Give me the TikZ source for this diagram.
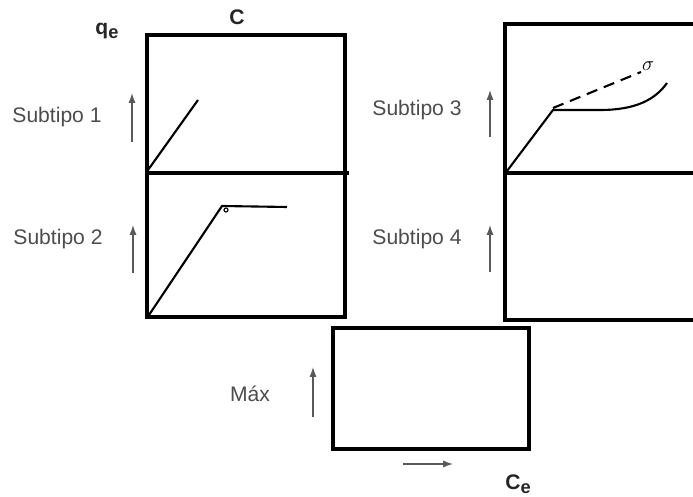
\documentclass[tikz,border=0pt]{standalone}
\usepackage{fontspec}
\setmainfont{Liberation Sans}
\usetikzlibrary{arrows.meta}
\begin{document}
\begin{tikzpicture}[x=0.025cm,y=-0.025cm,
	box/.style={line width=3.2pt},
	curve/.style={line width=1.5pt,line join=round},
	uparrow/.style={-{Latex[length=7pt,width=5pt]},draw=black!65,line width=0.9pt},
	sublabel/.style={text=black!70,font=\fontsize{15}{18}\selectfont},
	axlabel/.style={text=black!85,font=\bfseries\fontsize{15}{18}\selectfont}]
	\useasboundingbox (0,0) rectangle (693,497);
	\clip (0,0) rectangle (693,497);
	
	% left column
	\draw[box] (147,35) rectangle (345,173);
	\draw[box] (147,173) rectangle (345,317);
	\draw[box] (345,173)--(349,173);
	% right column
	\draw[box] (505,24) rectangle (720,173);
	\draw[box] (505,173) rectangle (720,320);
	% bottom box
	\draw[box] (333,328) rectangle (529,449);
	
	\node[axlabel] (qe) at (107,31) {q\raisebox{-0.35ex}{\fontsize{13}{15}\selectfont e}};
	\node[axlabel] (c) at (237,17) {C};
	\node[axlabel] (ce) at (518,484) {C\raisebox{-0.35ex}{\fontsize{13}{15}\selectfont e}};
	
	\node[sublabel] (s1) at (57,117) {Subtipo 1};
	\draw[uparrow] (132,142)--(132,93);
	\node[sublabel] (s2) at (58,239) {Subtipo 2};
	\draw[uparrow] (133,273)--(133,225);
	\node[sublabel] (s3) at (417,110) {Subtipo 3};
	\draw[uparrow] (490,137)--(490,90);
	\node[sublabel] (s4) at (417,239) {Subtipo 4};
	\draw[uparrow] (490,272)--(490,225);
	\node[sublabel] (max) at (250,394) {Máx};
	\draw[uparrow] (313,417)--(313,367);
	\draw[uparrow] (403,464)--(453,464);
	
	% isotherm curves
	\draw[curve] (148,170)--(198,100);
	\draw[curve] (149,315)--(222,206)--(287,207);
	\draw[line width=0.8pt] (226,210) circle (2);
	\draw[curve] (507,171)--(553,110)--(600,110) .. controls (635,110) and (655,100) .. (667,83);
	\draw[curve,dashed,dash pattern=on 8pt off 5pt] (553,108)--(641,72);
	\node[inner sep=0pt,font=\Large] (sig) at (648,66) {$\sigma$};
\end{tikzpicture}
\end{document}
